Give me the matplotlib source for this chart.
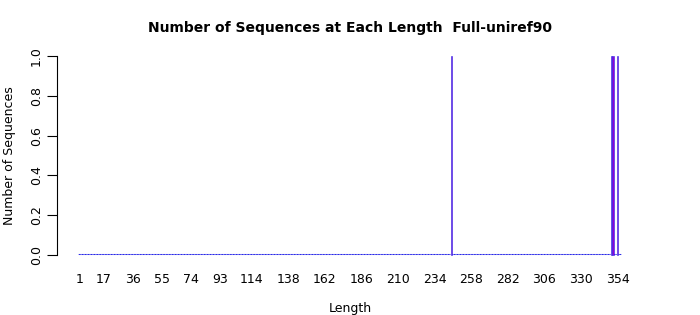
import matplotlib
matplotlib.use("Agg")
import matplotlib.pyplot as plt
import numpy as np

lengths = list(range(1, 357))
nonzero_lengths = [245, 350, 351, 354]
nonzero_counts = [1, 1, 1, 1]
counts = [0] * len(lengths)
for L, c in zip(nonzero_lengths, nonzero_counts):
    counts[lengths.index(L)] = c

xtick_labels = [1, 17, 36, 55, 74, 93, 114, 138, 162, 186, 210, 234, 258, 282, 306, 330, 354]
yticks = [0.0, 0.2, 0.4, 0.6, 0.8, 1.0]

W, H = 700, 315
fig = plt.figure(figsize=(W / 100, H / 100), dpi=100)
bottom_px = 52.574
ax = fig.add_axes([57 / W, bottom_px / H, (643 - 57) / W, 214 / H])

bw = 1 / 1.2
counts_arr = np.array(counts)
lengths_arr = np.array(lengths)
zero = counts_arr == 0
# zero-height bars: only their border shows, as a continuous baseline
ax.bar(lengths_arr[zero], counts_arr[zero], width=bw, color="#9400d3",
       edgecolor="#2a2ae8", linewidth=0.75, snap=False)
ax.bar(lengths_arr[~zero], counts_arr[~zero], width=bw, color="#9400d3",
       edgecolor="#2a2ae8", linewidth=0.4)

lo = lengths[0] - bw / 2
hi = lengths[-1] + bw / 2
span = hi - lo
ax.set_xlim(lo - 0.04 * span, hi + 0.04 * span)
ax.set_ylim(-0.04, 1.04)

for s in ["top", "right", "bottom"]:
    ax.spines[s].set_visible(False)
ax.spines["left"].set_bounds(0, 1)
ax.spines["left"].set_linewidth(0.8)

ax.set_yticks(yticks)
ax.set_yticklabels([f"{v:.1f}" for v in yticks], rotation=90, va="center", fontsize=9)
ax.tick_params(axis="y", direction="out", length=7, width=0.8, pad=3)

ax.set_xticks(xtick_labels)
ax.set_xticklabels([str(v) for v in xtick_labels], fontsize=9)
ax.tick_params(axis="x", length=0, pad=7.5)

ax.set_xlabel("Length", fontsize=9, labelpad=11.5)
ax.set_ylabel("Number of Sequences", fontsize=9, labelpad=10.5)
ax.set_title("Number of Sequences at Each Length  Full-uniref90", fontsize=10, fontweight="bold", pad=11.5)

fig.savefig("out.png", dpi=100)
